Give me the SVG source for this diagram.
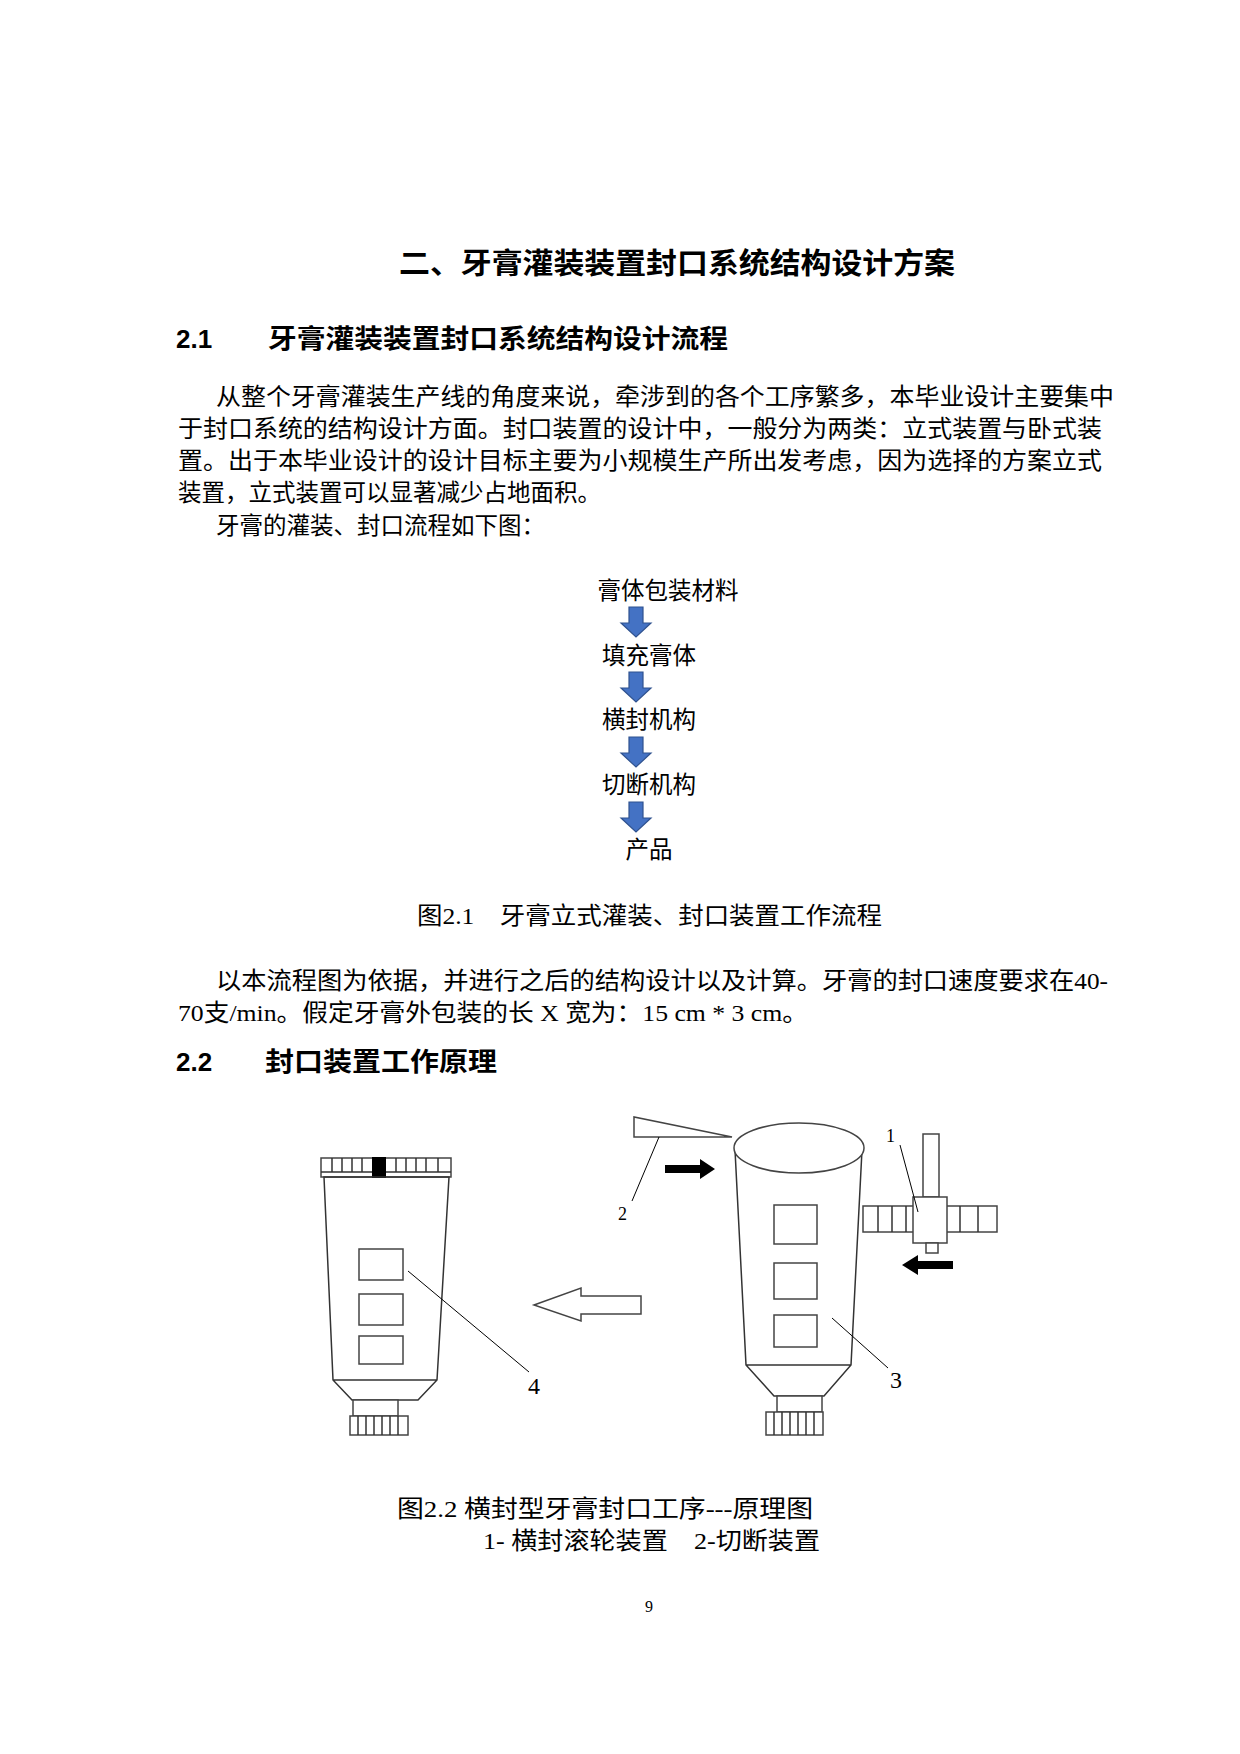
<svg xmlns="http://www.w3.org/2000/svg" width="1240" height="1754" viewBox="0 0 1240 1754">
<style>
text{font-family:"Liberation Serif","Noto Sans CJK SC",serif;fill:#000}
.b{font-size:23.5px}
.h{font-weight:bold;font-family:"Liberation Sans","Noto Sans CJK SC",sans-serif}
.ln{fill:none;stroke:#333;stroke-width:1.5}
.w{fill:#fff;stroke:#444;stroke-width:1.5}
.blue{fill:#4472C4;stroke:#2F528F;stroke-width:1.2}
.lab{font-size:24px}
</style>
<rect width="1240" height="1754" fill="#fff"/>
<text class="h" x="399" y="274" font-size="29" textLength="556" lengthAdjust="spacingAndGlyphs">二、牙膏灌装装置封口系统结构设计方案</text>
<text class="h" x="176" y="348" font-size="26">2.1</text>
<text class="h" x="268" y="348" font-size="26" textLength="460" lengthAdjust="spacingAndGlyphs">牙膏灌装装置封口系统结构设计流程</text>
<text class="b" x="216" y="405" textLength="898" lengthAdjust="spacingAndGlyphs">从整个牙膏灌装生产线的角度来说，牵涉到的各个工序繁多，本毕业设计主要集中</text>
<text class="b" x="178" y="437" textLength="924" lengthAdjust="spacingAndGlyphs">于封口系统的结构设计方面。封口装置的设计中，一般分为两类：立式装置与卧式装</text>
<text class="b" x="178" y="469" textLength="924" lengthAdjust="spacingAndGlyphs">置。出于本毕业设计的设计目标主要为小规模生产所出发考虑，因为选择的方案立式</text>
<text class="b" x="178" y="501">装置，立式装置可以显著减少占地面积。</text>
<text class="b" x="216" y="534">牙膏的灌装、封口流程如下图：</text>
<g id="flow">
<g id="n1"><text class="b" x="668" y="599" text-anchor="middle">膏体包装材料</text></g>
<g id="n2"><text class="b" x="649" y="664" text-anchor="middle">填充膏体</text></g>
<g id="n3"><text class="b" x="649" y="728" text-anchor="middle">横封机构</text></g>
<g id="n4"><text class="b" x="649" y="793" text-anchor="middle">切断机构</text></g>
<g id="n5"><text class="b" x="649" y="858" text-anchor="middle">产品</text></g>
</g>
<g id="connectors">
<path class="blue" d="M629 607h14v16h8l-15 14l-15-14h8z"/>
<path class="blue" d="M629 672h14v16h8l-15 14l-15-14h8z"/>
<path class="blue" d="M629 737h14v16h8l-15 14l-15-14h8z"/>
<path class="blue" d="M629 802h14v16h8l-15 14l-15-14h8z"/>
</g>
<text class="b" x="417" y="924" textLength="465" lengthAdjust="spacingAndGlyphs">图2.1　牙膏立式灌装、封口装置工作流程</text>
<text class="b" x="216" y="989" textLength="892" lengthAdjust="spacingAndGlyphs">以本流程图为依据，并进行之后的结构设计以及计算。牙膏的封口速度要求在40-</text>
<text class="b" x="178" y="1021" textLength="630" lengthAdjust="spacingAndGlyphs">70支/min。假定牙膏外包装的长 X 宽为：15 cm * 3 cm。</text>
<text class="h" x="176" y="1071" font-size="26">2.2</text>
<text class="h" x="265" y="1071" font-size="26" textLength="232" lengthAdjust="spacingAndGlyphs">封口装置工作原理</text>
<g id="fig">
<g id="tube4">
<rect class="w" x="321" y="1158" width="130" height="19"/>
<path class="ln" d="M321 1172h130M332 1158v14M342 1158v14M352 1158v14M362 1158v14M396 1158v14M406 1158v14M416 1158v14M426 1158v14M438 1158v14"/>
<rect x="372" y="1157" width="14" height="21" fill="#000"/>
<path class="ln" d="M324 1177L333 1380L352 1400L418 1400L437 1380L449 1177Z M333 1380H437"/>
<rect class="w" x="353" y="1400" width="45" height="16"/>
<rect class="w" x="350" y="1416" width="58" height="19"/>
<path class="ln" d="M358 1416v19M366 1416v19M374 1416v19M382 1416v19M390 1416v19M398 1416v19"/>
<rect class="w" x="359" y="1249" width="44" height="31"/>
<rect class="w" x="359" y="1294" width="44" height="31"/>
<rect class="w" x="359" y="1336" width="44" height="28"/>
<path d="M408 1271L529 1372" stroke="#000" stroke-width="1"/>
<text class="lab" x="528" y="1394">4</text>
</g>
<path class="w" d="M534 1305L581 1288V1296H641V1314H581V1321Z"/>
<g id="tube3">
<path class="ln" d="M735 1150L746 1365L774 1396L824 1396L851 1365L862 1150 M746 1365H851"/>
<ellipse class="w" cx="799" cy="1148" rx="65" ry="25"/>
<rect class="w" x="777" y="1396" width="45" height="16"/>
<rect class="w" x="766" y="1412" width="57" height="23"/>
<path class="ln" d="M774 1412v23M782 1412v23M790 1412v23M798 1412v23M806 1412v23M814 1412v23"/>
<rect class="w" x="774" y="1205" width="43" height="39"/>
<rect class="w" x="774" y="1263" width="43" height="36"/>
<rect class="w" x="774" y="1315" width="43" height="32"/>
<path d="M832 1318L888 1368" stroke="#000" stroke-width="1"/>
<text class="lab" x="890" y="1388">3</text>
</g>
<g id="cutter">
<path class="w" d="M634 1117V1137H732Z"/>
<path d="M659 1137L632 1201" stroke="#000" stroke-width="1"/>
<text x="618" y="1220" font-size="18">2</text>
</g>
<path d="M665 1165H700V1159L715 1169L700 1179V1173H665Z" fill="#000"/>
<g id="roller">
<rect class="w" x="923" y="1134" width="16" height="63"/>
<rect class="w" x="863" y="1206" width="134" height="26"/>
<path class="ln" d="M878 1206v26M892 1206v26M906 1206v26M960 1206v26M978 1206v26"/>
<rect class="w" x="913" y="1197" width="34" height="46"/>
<rect class="w" x="926" y="1243" width="12" height="10"/>
<path d="M900 1145L918 1212" stroke="#000" stroke-width="1"/>
<text x="886" y="1142" font-size="18">1</text>
</g>
<path d="M953 1261H918V1255L902 1265L918 1275V1269H953Z" fill="#000"/>
</g>
<text class="b" x="397" y="1517" textLength="416" lengthAdjust="spacingAndGlyphs">图2.2 横封型牙膏封口工序---原理图</text>
<text class="b" x="483" y="1549" textLength="337" lengthAdjust="spacingAndGlyphs">1- 横封滚轮装置　2-切断装置</text>
<text x="649" y="1612" font-size="16" text-anchor="middle">9</text>
</svg>
